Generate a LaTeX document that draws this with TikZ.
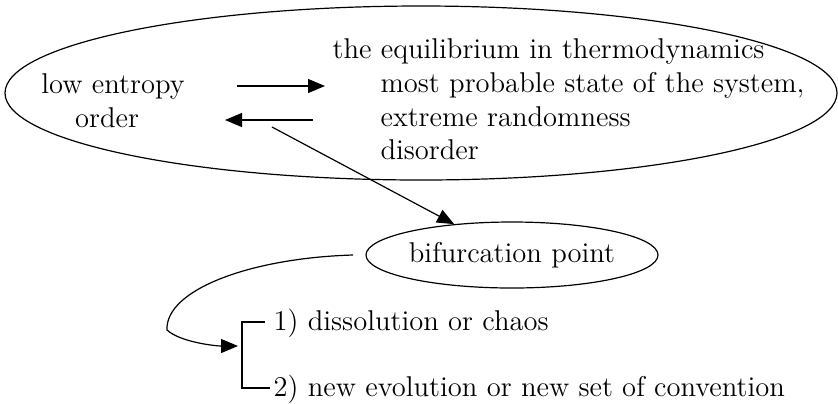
\documentclass[tikz,border=0pt]{standalone}
\usepackage{tikz}
\usetikzlibrary{shapes.geometric,arrows.meta}

\begin{document}
\begin{tikzpicture}[x=0.5pt,y=-0.5pt,line width=0.6pt,
  every node/.style={font=\fontsize{14.3}{17}\selectfont,inner sep=0pt},
  tip/.style={-{Triangle[length=8.5pt,width=7pt]}}]
\useasboundingbox (0,0) rectangle (838,403);
% upper ellipse
\draw (421,93) ellipse [x radius=416, y radius=87];
\node[anchor=base] (low) at (113,93) {low entropy};
\node[anchor=base] (ord) at (107,127) {order};
\node[anchor=base west] (eq) at (332,58) {the equilibrium in thermodynamics};
\foreach \n/\y/\t in {mp/92/{most probable state of the system,},ex/126/{extreme randomness},dis/159/{disorder}}
  \node[anchor=base west] (\n) at (380,\y) {\t};
\coordinate (r1) at (237,86); \coordinate (r2) at (325,86);
\coordinate (l1) at (313,120); \coordinate (l2) at (225,120);
\draw[tip] (r1) -- (r2); \draw[tip] (l1) -- (l2);
% bifurcation
\node[draw,ellipse,minimum width=146pt,minimum height=33pt] (bif) at (512,255) {bifurcation point};
\coordinate (s) at (272,127);
\draw[tip] (s) -- (bif);
\coordinate (c) at (353,255); \coordinate (br) at (238,346);
\draw[tip] (c) .. controls (250,258) and (165,290) .. (167,330)
  .. controls (180,342) and (215,346) .. (br);
% the two outcomes
\draw (265,322) -| (242,388) -- (270,388);
\node[anchor=base west] (o1) at (273,330) {1) dissolution or chaos};
\node[anchor=base west] (o2) at (273,396) {2) new evolution or new set of convention};
\end{tikzpicture}
\end{document}
